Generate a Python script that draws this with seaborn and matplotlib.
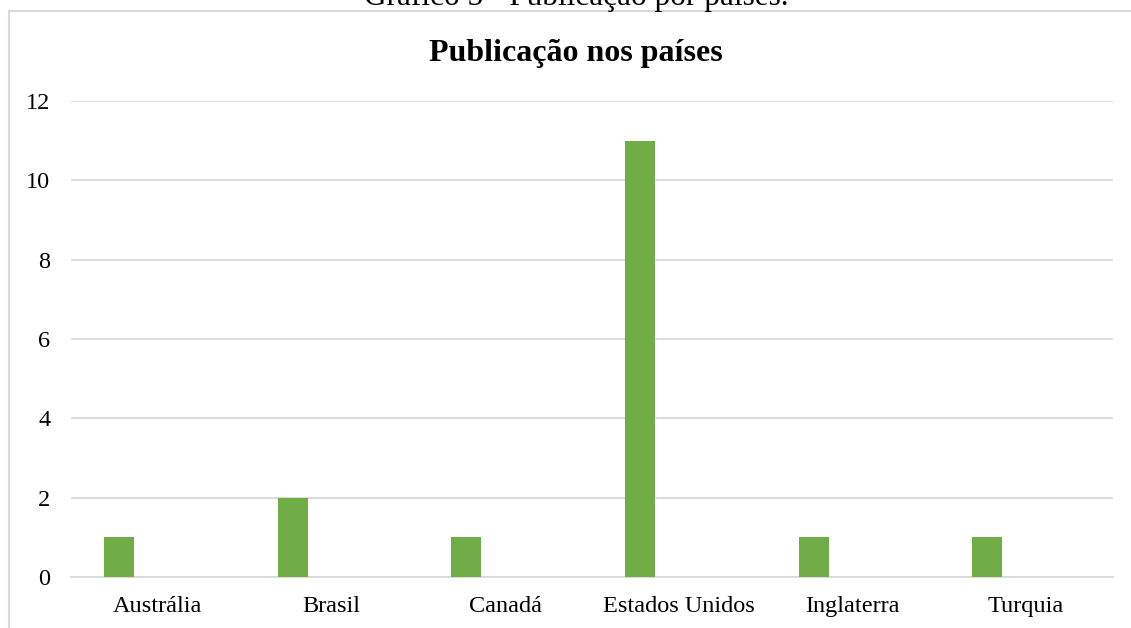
import matplotlib
matplotlib.use("Agg")
import matplotlib.pyplot as plt
from matplotlib.patches import Rectangle
import seaborn as sns
import pandas as pd

paises = ["Austrália", "Brasil", "Canadá", "Estados Unidos", "Inglaterra", "Turquia"]
publicacoes = [1, 2, 1, 11, 1, 1]
y_ticks = [0, 2, 4, 6, 8, 10, 12]

sns.set_theme(style="white")
plt.rcParams["font.family"] = ["Liberation Serif", "DejaVu Serif"]

df = pd.DataFrame({"País": paises, "Publicações": publicacoes})

fig = plt.figure(figsize=(11.31, 6.28), dpi=100)
ax = fig.add_axes([71 / 1131, 1 - 577 / 628, (1113 - 71) / 1131, (577 - 101) / 628])

bar_w = 30 / 173.7
sns.barplot(data=df, x="País", y="Publicações", color="#70AD47", width=bar_w,
            saturation=1, linewidth=0, ax=ax, zorder=3)
# shift bars left of the category centre
shift = -39 / 173.7
for p in ax.patches:
    p.set_x(p.get_x() + shift)

ax.set_ylim(0, 12)
ax.set_yticks(y_ticks)
ax.set_yticklabels([str(v) for v in y_ticks])
ax.set_xlim(-0.5, len(paises) - 0.5)
ax.yaxis.grid(True, color="#d9d9d9", linewidth=1.3, zorder=0)
ax.set_axisbelow(True)
for s in ["top", "right", "left"]:
    ax.spines[s].set_visible(False)
ax.spines["bottom"].set_color("#d9d9d9")
ax.spines["bottom"].set_linewidth(1.3)
ax.tick_params(axis="both", length=0, labelsize=17.5, colors="#000000")
ax.tick_params(axis="y", pad=15)
ax.tick_params(axis="x", pad=13.5)
ax.set_xlabel("")
ax.set_ylabel("")

cx = 576 / 1131
fig.text(cx, 1 - 61 / 628, "Publicação nos países", ha="center", va="baseline",
         fontsize=23, fontweight="bold", color="#000000")
fig.text(cx, 1 - 5 / 628, "Gráfico 5 - Publicação por países.", ha="center",
         va="baseline", fontsize=22.5, color="#000000")

# chart frame
fig.patches.append(Rectangle((9 / 1131, -0.1), 1.2, 1 - 11 / 628 + 0.1,
                             transform=fig.transFigure, fill=False,
                             edgecolor="#d9d9d9", linewidth=1.5))

fig.savefig("out.png", dpi=100)
